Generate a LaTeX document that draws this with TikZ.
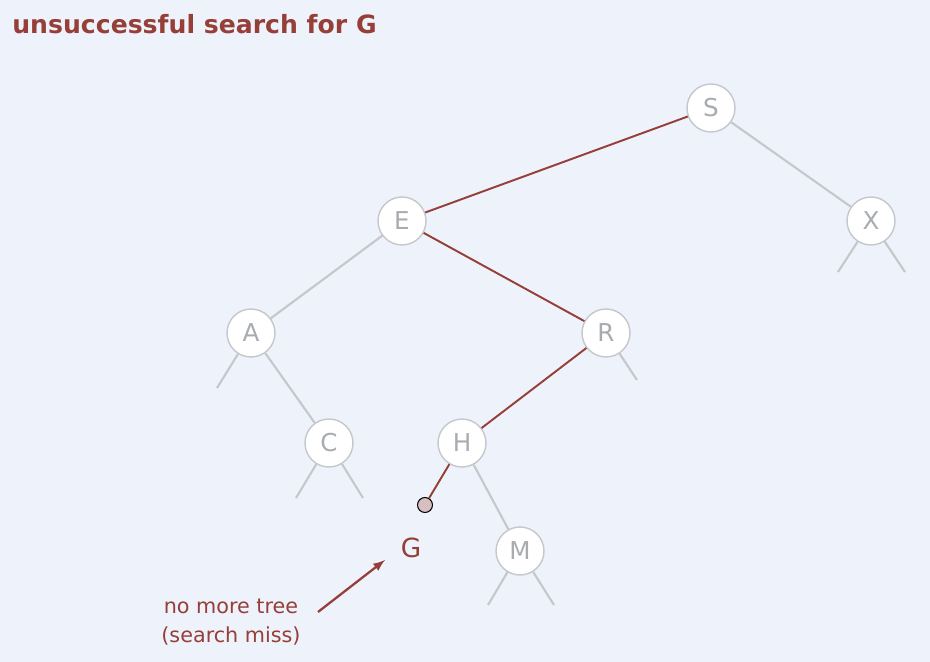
\documentclass[tikz,border=0pt]{standalone}
\usepackage{fontspec}
\setmainfont{DejaVu Sans}
\usetikzlibrary{arrows}
\definecolor{bgblue}{RGB}{238,243,251}
\definecolor{missred}{RGB}{150,62,56}
\definecolor{linkgray}{RGB}{196,200,204}
\definecolor{keygray}{RGB}{168,172,176}
\definecolor{nilpink}{RGB}{215,190,192}
\tikzset{
  key/.style={circle, draw=linkgray, line width=0.8pt, fill=white, minimum size=0.96cm, inner sep=0pt, text=keygray, font=\fontsize{14}{16}\selectfont},
  link/.style={draw=linkgray, line width=1.2pt},
  path/.style={draw=missred, line width=1.1pt},
  nil/.style={circle, draw=black, line width=0.6pt, fill=nilpink, minimum size=0.3cm, inner sep=0pt}
}

\begin{document}
\begin{tikzpicture}[x=0.02cm,y=-0.02cm]
	\fill[bgblue] (0,0) rectangle (930,662);
	\useasboundingbox (0,0) rectangle (930,662);
	\node[anchor=base west, inner sep=0pt, text=missred, font=\bfseries\fontsize{14.3}{16}\selectfont] (title) at (12,34) {unsuccessful search for G};
	% keys
	\node[key] (S) at (711,108) {S};
	\node[key] (E) at (402,221) {E};
	\node[key] (X) at (871,221) {X};
	\node[key] (A) at (251,333) {A};
	\node[key] (R) at (606,333) {R};
	\node[key] (C) at (329,443) {C};
	\node[key] (H) at (462,443) {H};
	\node[key] (M) at (520,551) {M};
	\node[nil] (nil) at (425,505) {};
	% null links
	\coordinate (Xl) at (838,272);
	\coordinate (Xr) at (905,272);
	\coordinate (Al) at (217,388);
	\coordinate (Rr) at (637,380);
	\coordinate (Cl) at (296,498);
	\coordinate (Cr) at (363,498);
	\coordinate (Ml) at (488,605);
	\coordinate (Mr) at (554,605);
	\draw[link] (S) -- (X);
	\draw[link] (E) -- (A);
	\draw[link] (A) -- (C);
	\draw[link] (H) -- (M);
	\draw[link] (X) -- (Xl);
	\draw[link] (X) -- (Xr);
	\draw[link] (A) -- (Al);
	\draw[link] (R) -- (Rr);
	\draw[link] (C) -- (Cl);
	\draw[link] (C) -- (Cr);
	\draw[link] (M) -- (Ml);
	\draw[link] (M) -- (Mr);
	% search path
	\draw[path] (S) -- (E);
	\draw[path] (E) -- (R);
	\draw[path] (R) -- (H);
	\draw[path] (H) -- (nil);
	\node[text=missred, font=\fontsize{15}{17}\selectfont] (G) at (411,548) {G};
	\node[text=missred, align=center, font=\fontsize{11.8}{16.5}\selectfont] (miss) at (231,622) {no more tree\\(search miss)};
	\coordinate (tail) at (318,612);
	\coordinate (head) at (385,560);
	\draw[-latex, missred, line width=1.3pt] (tail) -- (head);
\end{tikzpicture}
\end{document}
